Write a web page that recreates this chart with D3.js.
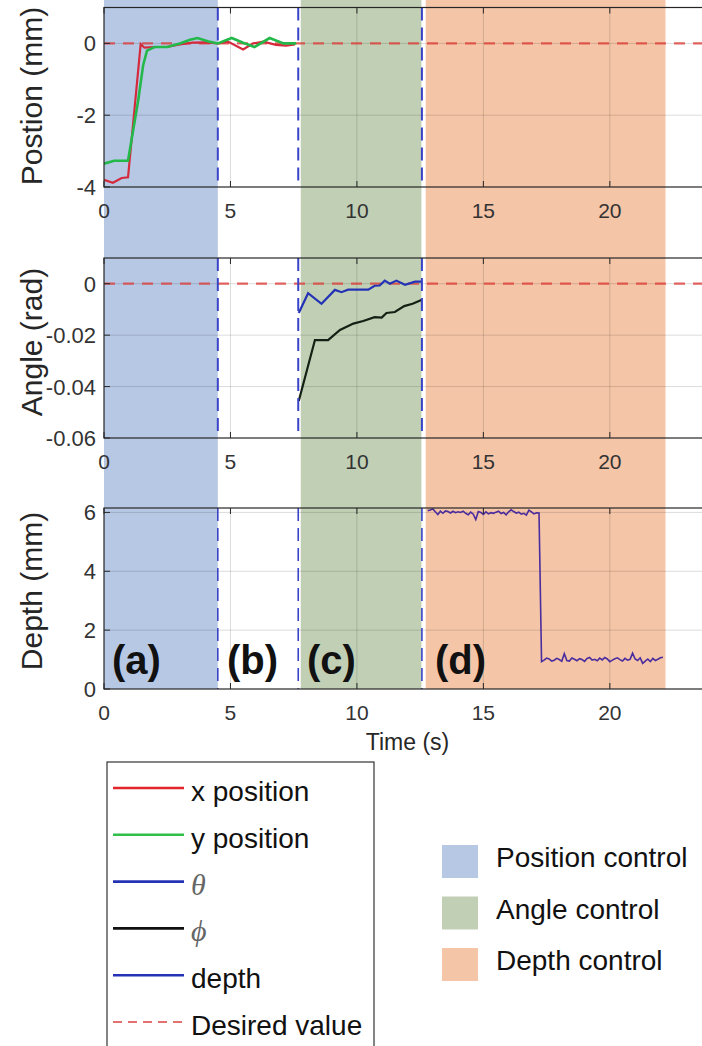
<!DOCTYPE html>
<html>
<head>
<meta charset="utf-8">
<script src="https://cdn.jsdelivr.net/npm/d3@7"></script>
<style>
  body { margin: 0; background: #fff; }
  svg { display: block; font-family: "Liberation Sans", Arial, sans-serif; }
</style>
</head>
<body>
<svg id="chart" width="702" height="1046"></svg>
<script>
// ---- data ----
const xTicks = [0, 5, 10, 15, 20];

const posTicks = [-4, -2, 0];
const angleTicks = [-0.06, -0.04, -0.02, 0];
const angleTickLabels = ["-0.06", "-0.04", "-0.02", "0"];
const depthTicks = [0, 2, 4, 6];

// shaded control phases [start, end] in seconds
const phaseNames = ["Position control", "Angle control", "Depth control"];
const phaseRanges = [[0, 4.5], [7.78, 12.55], [12.72, 22.2]];
const phaseColors = ["#b7c8e5", "#c1d0b5", "#f5c5a7"];
// phase switch markers
const switchTimes = [4.5, 7.68, 12.57];

// position panel [t, mm]
const xPos = [[0, -3.8], [0.35, -3.88], [0.7, -3.75], [0.95, -3.73], [1.45, -0.02], [1.6, -0.12],
  [2.0, -0.1], [2.5, -0.1], [3.0, -0.03], [3.5, 0.02], [4.0, 0.03], [4.5, 0], [4.9, 0.05],
  [5.5, -0.17], [5.9, 0.0], [6.3, 0.05], [6.8, -0.04], [7.2, -0.06], [7.55, -0.03]];
const yPos = [[0, -3.35], [0.4, -3.27], [0.95, -3.27], [1.35, -1.6], [1.55, -0.6], [1.7, -0.2],
  [2.0, -0.1], [2.5, -0.1], [3.0, 0.0], [3.4, 0.1], [3.7, 0.15], [4.1, 0.06], [4.5, 0.0],
  [5.05, 0.15], [5.5, 0.02], [5.95, -0.1], [6.55, 0.15], [7.1, 0.0], [7.6, 0.0]];

// angle panel [t, rad]
const theta = [[7.7, -0.0114], [8.07, -0.0037], [8.6, -0.0078], [9.13, -0.0024], [9.39, -0.0033],
  [9.65, -0.0023], [10.45, -0.0023], [10.7, -0.0008], [10.9, -0.0007], [11.1, 0.0012],
  [11.3, 0.0], [11.56, 0.0012], [11.9, -0.0004], [12.3, 0.0008], [12.55, 0.0008]];
const phi = [[7.7, -0.0456], [8.34, -0.0219], [8.86, -0.0219], [9.33, -0.018], [9.86, -0.0155],
  [10.25, -0.0145], [10.7, -0.013], [10.98, -0.0132], [11.17, -0.0114], [11.5, -0.011],
  [11.87, -0.0087], [12.2, -0.0078], [12.55, -0.0063]];

// depth panel, sampled every 0.1 s
const depthStart = 12.8;
const depthStep = 0.1;
const depthVals = [6.06, 6.08, 6.12, 6.02, 5.93, 6.04, 5.97, 6.05, 6.03, 5.98, 6.04, 5.99, 6.02, 6.00,
  6.04, 5.97, 5.92, 6.01, 5.94, 5.76, 6.03, 6.00, 5.93, 6.02, 5.95, 5.99, 5.97, 6.01, 6.04, 5.96,
  6.00, 5.92, 6.02, 6.09, 6.03, 5.98, 6.01, 5.94, 5.97, 5.91, 6.08, 6.02, 5.95, 5.99, 5.98,
  0.93, 0.98, 1.05, 1.02, 0.95, 0.98, 1.04, 1.00, 0.94, 1.20, 0.97, 0.95, 1.05, 1.01, 0.96,
  1.03, 1.00, 0.94, 1.04, 1.07, 0.98, 1.01, 0.96, 1.05, 0.99, 1.07, 1.02, 0.93, 0.98, 1.03,
  1.06, 1.00, 0.95, 1.04, 0.98, 1.01, 1.22, 1.02, 0.97, 1.06, 0.87, 0.95, 1.02, 0.93, 1.04,
  0.97, 1.01, 1.06, 1.08];

const legendNames = ["x position", "y position", "\u03b8", "\u03d5", "depth", "Desired value"];
const legendColors = ["#e3262b", "#2fbf4a", "#2433b5", "#111111", "#2433b5", "#d9443f"];

// ---- layout ----
const svg = d3.select("#chart");
const x = d3.scaleLinear().domain([0, 24]).range([104, 711]);

const panels = [
  { top: 7.5, bottom: 187, domain: [-4, 1], ticks: posTicks, labels: posTicks.map(String),
    title: "Postion (mm)", titleY: 96, desired: true },
  { top: 258, bottom: 438, domain: [-0.06, 0.01], ticks: angleTicks, labels: angleTickLabels,
    title: "Angle (rad)", titleY: 342, desired: true },
  { top: 508, bottom: 689, domain: [0, 6.15], ticks: depthTicks, labels: depthTicks.map(String),
    title: "Depth (mm)", titleY: 591, desired: false }
];
panels.forEach(p => { p.y = d3.scaleLinear().domain(p.domain).range([p.bottom, p.top]); });

// phase bands behind everything
svg.append("g").selectAll("rect")
  .data(phaseRanges)
  .join("rect")
    .attr("x", d => x(d[0]))
    .attr("width", d => x(d[1]) - x(d[0]))
    .attr("y", 0)
    .attr("height", 689)
    .attr("fill", (d, i) => phaseColors[i]);

const line = y => d3.line().x(d => x(d[0])).y(d => y(d[1]));

panels.forEach((p, pi) => {
  const g = svg.append("g");
  const clipId = "clip" + pi;
  svg.append("clipPath").attr("id", clipId)
    .append("rect").attr("x", x(0)).attr("y", p.top).attr("width", x(24) - x(0)).attr("height", p.bottom - p.top);

  // grid
  g.selectAll(".vg").data(xTicks.slice(1)).join("line")
    .attr("x1", d => x(d)).attr("x2", d => x(d))
    .attr("y1", p.top).attr("y2", p.bottom)
    .attr("stroke", "rgba(0,0,0,0.14)").attr("stroke-width", 1);
  g.selectAll(".hg").data(p.ticks.filter(t => t !== p.domain[0])).join("line")
    .attr("x1", x(0)).attr("x2", x(24))
    .attr("y1", d => p.y(d)).attr("y2", d => p.y(d))
    .attr("stroke", "rgba(0,0,0,0.14)").attr("stroke-width", 1);

  // desired value
  if (p.desired) {
    g.append("line")
      .attr("x1", x(0)).attr("x2", x(24))
      .attr("y1", p.y(0)).attr("y2", p.y(0))
      .attr("stroke", "rgba(222,60,55,0.78)").attr("stroke-width", 2.2)
      .attr("stroke-dasharray", "11,8");
  }

  const plot = g.append("g").attr("clip-path", "url(#" + clipId + ")");
  if (pi === 0) {
    plot.append("path").attr("d", line(p.y)(xPos)).attr("fill", "none")
      .attr("stroke", "#d42a3c").attr("stroke-width", 2.2);
    plot.append("path").attr("d", line(p.y)(yPos)).attr("fill", "none")
      .attr("stroke", "#22b84a").attr("stroke-width", 2.6);
  } else if (pi === 1) {
    plot.append("path").attr("d", line(p.y)(theta)).attr("fill", "none")
      .attr("stroke", "#2433b5").attr("stroke-width", 2.2);
    plot.append("path").attr("d", line(p.y)(phi)).attr("fill", "none")
      .attr("stroke", "#142014").attr("stroke-width", 2.2);
  } else {
    const depth = depthVals.map((v, i) => [depthStart + i * depthStep, v]);
    plot.append("path").attr("d", line(p.y)(depth)).attr("fill", "none")
      .attr("stroke", "#4a2d9e").attr("stroke-width", 1.6);
  }

  // phase switch markers
  g.selectAll(".sw").data(switchTimes).join("line")
    .attr("x1", d => x(d)).attr("x2", d => x(d))
    .attr("y1", p.top).attr("y2", p.bottom)
    .attr("stroke", "#3a44c8").attr("stroke-width", pi === 2 ? 1.6 : 2)
    .attr("stroke-dasharray", "13,7");

  // axes box
  g.append("rect")
    .attr("x", x(0)).attr("y", p.top)
    .attr("width", x(24) - x(0)).attr("height", p.bottom - p.top)
    .attr("fill", "none").attr("stroke", "#262626").attr("stroke-width", 1.2);

  // ticks (inward)
  g.selectAll(".xtb").data(xTicks).join("line")
    .attr("x1", d => x(d)).attr("x2", d => x(d))
    .attr("y1", p.bottom).attr("y2", p.bottom - 6)
    .attr("stroke", "#262626");
  g.selectAll(".xtt").data(xTicks).join("line")
    .attr("x1", d => x(d)).attr("x2", d => x(d))
    .attr("y1", p.top).attr("y2", p.top + 6)
    .attr("stroke", "#262626");
  g.selectAll(".yt").data(p.ticks).join("line")
    .attr("x1", x(0)).attr("x2", x(0) + 6)
    .attr("y1", d => p.y(d)).attr("y2", d => p.y(d))
    .attr("stroke", "#262626");

  // tick labels
  g.selectAll(".xl").data(xTicks).join("text")
    .attr("x", d => x(d)).attr("y", p.bottom + 31)
    .attr("text-anchor", "middle")
    .attr("font-size", 21).attr("fill", "#333")
    .text(d => d);
  g.selectAll(".yl").data(p.ticks).join("text")
    .attr("x", 96).attr("y", d => p.y(d) + 8)
    .attr("text-anchor", "end")
    .attr("font-size", 22).attr("fill", "#333")
    .text((d, i) => p.labels[i]);

  // axis title
  g.append("text")
    .attr("transform", "translate(42," + p.titleY + ") rotate(-90)")
    .attr("text-anchor", "middle")
    .attr("font-size", 30).attr("fill", "#262626")
    .text(p.title);
});

svg.append("text")
  .attr("x", x(12)).attr("y", 750)
  .attr("text-anchor", "middle")
  .attr("font-size", 23).attr("fill", "#262626")
  .text("Time (s)");

// phase letters
const phaseLetters = ["(a)", "(b)", "(c)", "(d)"];
const letterX = [112, 227, 307, 435];
svg.selectAll(".letter").data(phaseLetters).join("text")
  .attr("x", (d, i) => letterX[i]).attr("y", 674)
  .attr("font-size", 40).attr("font-weight", "bold").attr("fill", "#111")
  .text(d => d);

// line legend
const lg = svg.append("g");
lg.append("rect")
  .attr("x", 107).attr("y", 762).attr("width", 267).attr("height", 300)
  .attr("fill", "#fff").attr("stroke", "#333").attr("stroke-width", 1.2);
legendNames.forEach((name, i) => {
  const ly = 788 + i * 46.8;
  lg.append("line")
    .attr("x1", 113).attr("x2", 184).attr("y1", ly).attr("y2", ly)
    .attr("stroke", legendColors[i])
    .attr("stroke-width", i === 5 ? 1.6 : 2.6)
    .attr("stroke-dasharray", i === 5 ? "9,6" : null);
  const greek = i === 2 || i === 3;
  lg.append("text")
    .attr("x", 191).attr("y", ly + 13)
    .attr("font-size", greek ? 30 : 28)
    .attr("font-family", greek ? "'Liberation Serif', serif" : null)
    .attr("font-style", greek ? "italic" : null)
    .attr("fill", greek ? "#666" : "#111")
    .text(name);
});

// phase legend
phaseNames.forEach((name, i) => {
  const top = 845 + i * 51.5;
  svg.append("rect")
    .attr("x", 442).attr("y", top).attr("width", 36).attr("height", 33)
    .attr("fill", phaseColors[i]);
  svg.append("text")
    .attr("x", 496).attr("y", top + 22)
    .attr("font-size", 28).attr("fill", "#111")
    .text(name);
});
</script>
</body>
</html>
